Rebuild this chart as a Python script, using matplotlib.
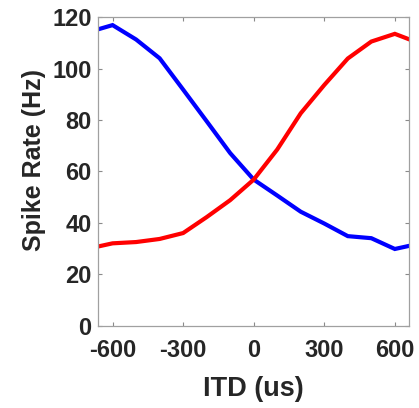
import matplotlib
matplotlib.use("Agg")
import matplotlib.pyplot as plt

# ITD tuning curves of two opposite-preferring units
itd = [-660, -600, -500, -400, -300, -200, -100, 0, 100, 200, 300, 400, 500, 600, 660]
rate_left = [115.3, 116.9, 111.3, 104.0, 91.8, 79.5, 67.1, 56.8, 50.6, 44.3, 39.7, 34.8, 34.0, 29.8, 31.0]
rate_right = [30.8, 32.0, 32.5, 33.7, 36.0, 42.2, 48.8, 56.8, 68.5, 82.6, 93.6, 103.9, 110.5, 113.5, 111.4]

xticks = [-600, -300, 0, 300, 600]
yticks = [0, 20, 40, 60, 80, 100, 120]

plt.rcParams["font.family"] = ["Liberation Sans", "DejaVu Sans"]
plt.rcParams["font.weight"] = "bold"

fig = plt.figure(figsize=(4.19, 4.08), dpi=100)
ax = fig.add_axes([0.235, 0.202, 0.741, 0.756])

ax.plot(itd, rate_left, color="#0000ff", linewidth=3.0, solid_joinstyle="miter")
ax.plot(itd, rate_right, color="#ff0000", linewidth=3.0, solid_joinstyle="miter")

ax.set_xlim(-660, 660)
ax.set_ylim(0, 120)
ax.set_xticks(xticks)
ax.set_yticks(yticks)
ax.set_xticklabels([str(t) for t in xticks], fontsize=17, fontweight="bold", color="#262626")
ax.set_yticklabels([str(t) for t in yticks], fontsize=17, fontweight="bold", color="#262626")
ax.tick_params(direction="in", length=3, width=0.8, color="#8a8a8a",
               top=True, right=True)
ax.tick_params(axis="x", pad=10)
ax.tick_params(axis="y", pad=5)
for side in ax.spines.values():
    side.set_color("#a0a0a0")
    side.set_linewidth(0.9)

ax.set_xlabel("ITD (us)", fontsize=19.5, fontweight="bold", color="#262626")
ax.set_ylabel("Spike Rate (Hz)", fontsize=18, fontweight="bold", color="#262626")
ax.xaxis.set_label_coords(0.5, -0.165)
ax.yaxis.set_label_coords(-0.17, 0.537)

fig.savefig("out.png", dpi=100)
plt.close(fig)
